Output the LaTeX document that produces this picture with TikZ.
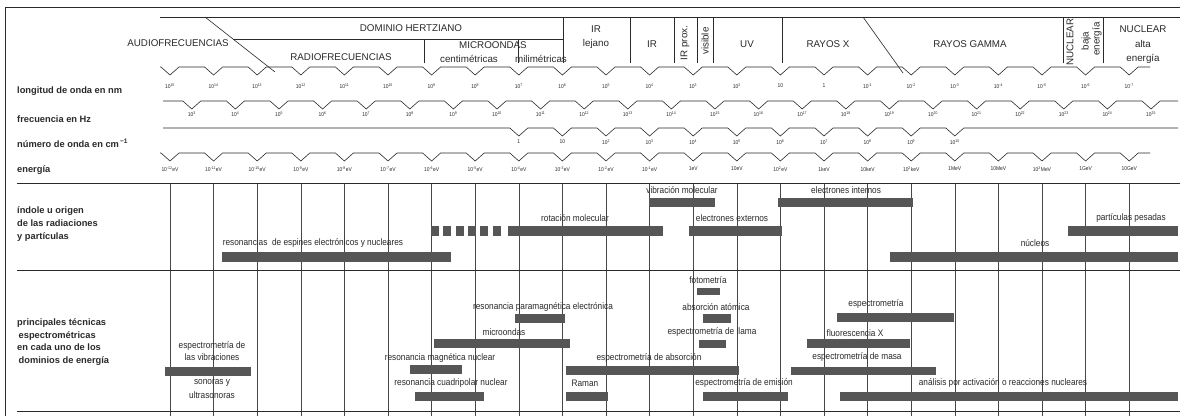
\documentclass[tikz,border=0pt]{standalone}
\usepackage{fontspec}
\setmainfont{Liberation Sans}
\newfontfamily\condfont[FakeStretch=0.88]{Liberation Sans}
\definecolor{ink}{HTML}{2A2A2A}
\definecolor{barc}{HTML}{565656}
\definecolor{gridc}{HTML}{474747}
\newcommand\tenpow[1]{\ifnum#1=0 1\else\ifnum#1=1 10\else 10\textsuperscript{#1}\fi\fi}
\begin{document}
\begin{tikzpicture}[x=1pt,y=-1pt,
  ln/.style={draw=ink,line width=0.6pt},
  gridln/.style={draw=gridc,line width=0.5pt},
  hdr/.style={font=\fontsize{9.8}{11}\selectfont,text=ink,inner sep=0pt},
  hdrrot/.style={hdr,rotate=90},
  rowlab/.style={font=\bfseries\fontsize{9.3}{12.8}\selectfont,text=ink,inner sep=0pt,anchor=west,align=left},
  ticklab/.style={font=\condfont\fontsize{5.6}{6.5}\selectfont,text=ink,inner sep=0pt},
  barlab/.style={font=\condfont\fontsize{9.4}{11.5}\selectfont,text=ink,inner sep=0pt,align=center},
  bar/.style={fill=barc}]
\fill[white] (0,0) rectangle (1180,416);
\useasboundingbox (0,0) rectangle (1180,416);

% outer frame
\draw[ln] (5,7) -- (1180,7);
\draw[ln] (5,7) -- (5,416);

% ---------- header ----------
\draw[ln] (160,17) -- (1180,17);
\coordinate (da1) at (205,17);
\coordinate (da2) at (275,72);
\draw[ln] (da1) -- (da2);
\draw[ln] (233,39) -- (563,39);
\draw[ln] (424,39) -- (424,63);
\draw[ln] (518,39) -- (518,63);
\foreach \x in {563,630,674,697,713,782,1063,1103}
  \draw[ln] (\x,17) -- (\x,63);
\coordinate (dx1) at (863,17);
\coordinate (dx2) at (903,73);
\draw[ln] (dx1) -- (dx2);

\node[hdr] (audio) at (178,43) {AUDIOFRECUENCIAS};
\node[hdr] (hertz) at (411,28) {DOMINIO HERTZIANO};
\node[hdr] (radio) at (341,57) {RADIOFRECUENCIAS};
\node[hdr] (micro) at (493,45) {MICROONDAS};
\node[hdr] (centi) at (469,59) {centimétricas};
\node[hdr] (mili) at (541,59) {milimétricas};
\node[hdr] (irl1) at (596,29) {IR};
\node[hdr] (irl2) at (596,44) {lejano};
\node[hdr] (ir) at (652,44) {IR};
\node[hdrrot] (irp) at (685,43) {IR prox.};
\node[hdrrot] (vis) at (705,41) {visible};
\node[hdr] (uv) at (747,44) {UV};
\node[hdr] (rx) at (828,44) {RAYOS X};
\node[hdr] (rg) at (970,44) {RAYOS GAMMA};
\node[hdrrot] (nb1) at (1070,42) {NUCLEAR};
\node[hdrrot] (nb2) at (1086,41) {baja};
\node[hdrrot] (nb3) at (1097,39) {energía};
\node[hdr] (na1) at (1143,29) {NUCLEAR};
\node[hdr] (na2) at (1143,44) {alta};
\node[hdr] (na3) at (1143,59) {energía};

% ---------- scales ----------
% wavelength
\draw[ln] (160,67) \foreach \k in {0,...,22}{ -- ({170+43.6*\k-9},67) -- ({170+43.6*\k},75) -- ({170+43.6*\k+9},67)} -- (1150,67);
\foreach \k in {0,...,22}{
  \pgfmathtruncatemacro\e{15-\k}
  \node[ticklab] (wl\k) at ({170+43.6*\k},86) {\tenpow{\e}};
}
% frequency
\draw[ln] (163,101) \foreach \k in {0,...,22}{ -- ({191.8+43.6*\k-9},101) -- ({191.8+43.6*\k},109) -- ({191.8+43.6*\k+9},101)} -- (1178,101);
\foreach \k in {0,...,22}{
  \pgfmathtruncatemacro\e{\k+3}
  \node[ticklab] (fq\k) at ({191.8+43.6*\k},114) {10\textsuperscript{\e}};
}
% wavenumber
\draw[ln] (163,128) \foreach \k in {8,...,18}{ -- ({170+43.6*\k-9},128) -- ({170+43.6*\k},136) -- ({170+43.6*\k+9},128)} -- (1178,128);
\foreach \k in {8,...,18}{
  \pgfmathtruncatemacro\e{\k-8}
  \node[ticklab] (wn\k) at ({170+43.6*\k},142) {\tenpow{\e}};
}
% energy
\draw[ln] (160,153) \foreach \k in {0,...,22}{ -- ({170+43.6*\k-9},153) -- ({170+43.6*\k},161) -- ({170+43.6*\k+9},153)} -- (1150,153);
\foreach \k in {0,...,11}{
  \pgfmathtruncatemacro\e{\k-12}
  \node[ticklab] (en\k) at ({170+43.6*\k},169) {10\textsuperscript{\e}eV};
}
\foreach \k/\t in {12/1eV,13/10eV,14/{10\textsuperscript{2}eV},15/1keV,16/10keV,17/{10\textsuperscript{2}keV},18/1MeV,19/10MeV,20/{10\textsuperscript{2}MeV},21/1GeV,22/10GeV}
  \node[ticklab] (en\k) at ({170+43.6*\k},169) {\t};

\node[rowlab] (rl1) at (17,91) {longitud de onda en nm};
\node[rowlab] (rl2) at (17,119) {frecuencia en Hz};
\node[rowlab] (rl3) at (17,143) {número de onda en cm\textsuperscript{\,−1}};
\node[rowlab] (rl4) at (17,170) {energía};

% ---------- grid ----------
\foreach \k in {0,...,22}
  \draw[gridln] ({170+43.6*\k},183) -- ({170+43.6*\k},416);
\draw[ln] (17,183) -- (1180,183);
\draw[ln] (17,270) -- (1180,270);
\draw[ln] (17,411) -- (1180,411);

\node[rowlab] (sec2) at (17,224) {índole u origen\\de las radiaciones\\y partículas};
\node[rowlab] (sec3) at (17,342) {principales técnicas\\\hspace{1.5pt}espectrométricas\\en cada uno de los\\\hspace{1.5pt}dominios de energía};

% ---------- section 2 ----------
\fill[bar] (649,198) rectangle (715,207);
\fill[bar] (778,198) rectangle (913,207);
\foreach \i in {0,...,5}
  \fill[bar] ({431+12.3*\i},226) rectangle ({439+12.3*\i},236);
\fill[bar] (508,226) rectangle (663,236);
\fill[bar] (689,226) rectangle (782,236);
\fill[bar] (1068,226) rectangle (1178,236);
\fill[bar] (222,252) rectangle (451,262);
\fill[bar] (890,252) rectangle (1178,262);

\node[barlab] (vib) at (682,190) {vibración molecular};
\node[barlab] (eint) at (846,190) {electrones internos};
\node[barlab] (rot) at (575,218) {rotación molecular};
\node[barlab] (eext) at (732,218) {electrones externos};
\node[barlab] (part) at (1131,218) {partículas pesadas};
\node[barlab] (resesp) at (313,243) {resonancias\ \ de espines electrónicos y nucleares};
\node[barlab] (nucl) at (1035,243) {núcleos};

% ---------- section 3 ----------
\fill[bar] (697,288) rectangle (720,295);
\fill[bar] (515,314) rectangle (565,323);
\fill[bar] (703,314) rectangle (731,323);
\fill[bar] (837,313) rectangle (954,322);
\fill[bar] (434,339) rectangle (570,348);
\fill[bar] (699,340) rectangle (726,348);
\fill[bar] (807,339) rectangle (910,348);
\fill[bar] (165,367) rectangle (251,376);
\fill[bar] (410,365) rectangle (462,374);
\fill[bar] (566,366) rectangle (739,375);
\fill[bar] (791,367) rectangle (936,375);
\fill[bar] (415,392) rectangle (484,401);
\fill[bar] (566,392) rectangle (608,401);
\fill[bar] (703,392) rectangle (788,401);
\fill[bar] (840,392) rectangle (1178,401);

\node[barlab] (foto) at (708,280) {fotometría};
\node[barlab] (rpe) at (543,307) {resonancia paramagnética electrónica};
\node[barlab] (absat) at (716,307) {absorción atómica};
\node[barlab] (espm) at (876,304) {espectrometría};
\node[barlab] (mo) at (504,332) {microondas};
\node[barlab] (llama) at (712,332) {espectrometría de llama};
\node[barlab] (fluo) at (855,333) {fluorescencia X};
\node[barlab] (vib1) at (212,346) {espectrometría de};
\node[barlab] (vib2) at (212,357) {las vibraciones};
\node[barlab] (vib3) at (212,383) {sonoras y};
\node[barlab] (vib4) at (212,395) {ultrasonoras};
\node[barlab] (rmn) at (440,358) {resonancia magnética nuclear};
\node[barlab] (eabs) at (649,358) {espectrometría de absorción};
\node[barlab] (emasa) at (857,357) {espectrometría de masa};
\node[barlab] (rcn) at (451,383) {resonancia cuadripolar nuclear};
\node[barlab] (raman) at (585,383) {Raman};
\node[barlab] (eemi) at (744,383) {espectrometría de emisión};
\node[barlab] (anal) at (1003,383) {análisis por activación o reacciones nucleares};
\end{tikzpicture}
\end{document}
